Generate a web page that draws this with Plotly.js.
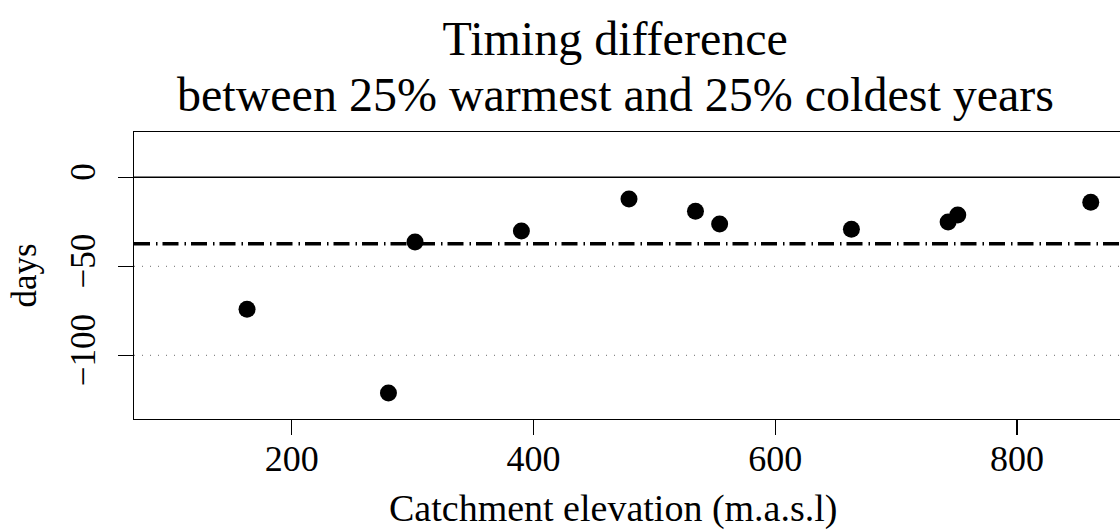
<!DOCTYPE html>
<html>
<head>
<meta charset="utf-8">
<script src="https://cdn.plot.ly/plotly-3.0.1.min.js"></script>
<style>html,body{margin:0;padding:0;background:#fff;}#chart{width:1120px;height:531px;}</style>
</head>
<body>
<div id="chart"></div>
<script>
// Data
const elevation = [163, 280, 302, 390, 479, 534, 554, 663, 743, 751, 861];
const timingDiff = [-74.2, -121.2, -36.3, -30.2, -12.2, -19.1, -26.2, -29.2, -25.1, -21.2, -14.0];
const meanDiff = -37.3;
const refLevels = [-50, -100];
const xTickVals = [200, 400, 600, 800];
const xTickText = ['200', '400', '600', '800'];
const yTickVals = [0, -50, -100];
const yTickText = ['0', '\u221250', '\u2212100'];
const titleLines = ['Timing difference', 'between 25% warmest and 25% coldest years'];
const xLabel = 'Catchment elevation (m.a.s.l)';
const yLabel = 'days';

const xRange = [69.5, 885.2];
const yRange = [-135.8, 25.45];
const FONT = 'Liberation Serif, Times New Roman, serif';

const traces = [
  {
    type: 'scatter', mode: 'lines', x: xRange, y: [0, 0],
    line: {color: '#000', width: 1.4}, hoverinfo: 'skip', showlegend: false
  },
  ...refLevels.map(v => ({
    type: 'scatter', mode: 'lines', x: xRange, y: [v, v],
    line: {color: '#888', width: 1.2, dash: '1px,7px'}, hoverinfo: 'skip', showlegend: false
  })),
  {
    type: 'scatter', mode: 'lines', x: xRange, y: [meanDiff, meanDiff],
    line: {color: '#000', width: 3.5, dash: '16px,6px,1.5px,5px'}, hoverinfo: 'skip', showlegend: false
  },
  {
    type: 'scatter', mode: 'markers', x: elevation, y: timingDiff,
    marker: {color: '#000', size: 17, line: {width: 0}}, showlegend: false
  }
];

const layout = {
  width: 1120, height: 531,
  margin: {l: 134, r: 0, t: 132, b: 112, pad: 0},
  paper_bgcolor: '#fff', plot_bgcolor: '#fff',
  font: {family: FONT, color: '#000'},
  title: {
    text: titleLines[0],
    font: {family: FONT, size: 48, color: '#000'},
    x: 0.488, xref: 'paper', xanchor: 'center',
    y: 1 - 38 / 531, yref: 'container', yanchor: 'middle'
  },
  xaxis: {
    range: xRange, tickvals: xTickVals, ticktext: xTickText,
    ticks: 'outside', ticklen: 15, tickwidth: 1.4, tickcolor: '#000',
    showline: true, linecolor: '#000', linewidth: 1.4, mirror: true,
    showgrid: false, zeroline: false, ticklabelstandoff: -8,
    tickfont: {family: FONT, size: 36, color: '#000'},
    title: {text: ''}
  },
  yaxis: {
    range: yRange, tickvals: yTickVals, ticktext: yTickText,
    ticks: 'outside', ticklen: 15, tickwidth: 1.4, tickcolor: '#000',
    showline: true, linecolor: '#000', linewidth: 1.4, mirror: false,
    showgrid: false, zeroline: false, tickangle: -90, ticklabelstandoff: 9,
    tickfont: {family: FONT, size: 35, color: '#000'},
    title: {text: yLabel, font: {family: FONT, size: 35, color: '#000'}, standoff: 16}
  },
  annotations: [
    {
      text: titleLines[1], xref: 'paper', yref: 'paper',
      x: (615 - 134) / (1120 - 134), y: 1, xanchor: 'center', yanchor: 'middle',
      yshift: 38, showarrow: false,
      font: {family: FONT, size: 48, color: '#000'}
    },
    {
      text: xLabel, xref: 'paper', yref: 'paper',
      x: (613 - 134) / (1120 - 134), y: 0, xanchor: 'center', yanchor: 'middle',
      yshift: -89, showarrow: false,
      font: {family: FONT, size: 38, color: '#000'}
    }
  ],
  showlegend: false
};

Plotly.newPlot('chart', traces, layout, {displayModeBar: false, staticPlot: true});
</script>
</body>
</html>
